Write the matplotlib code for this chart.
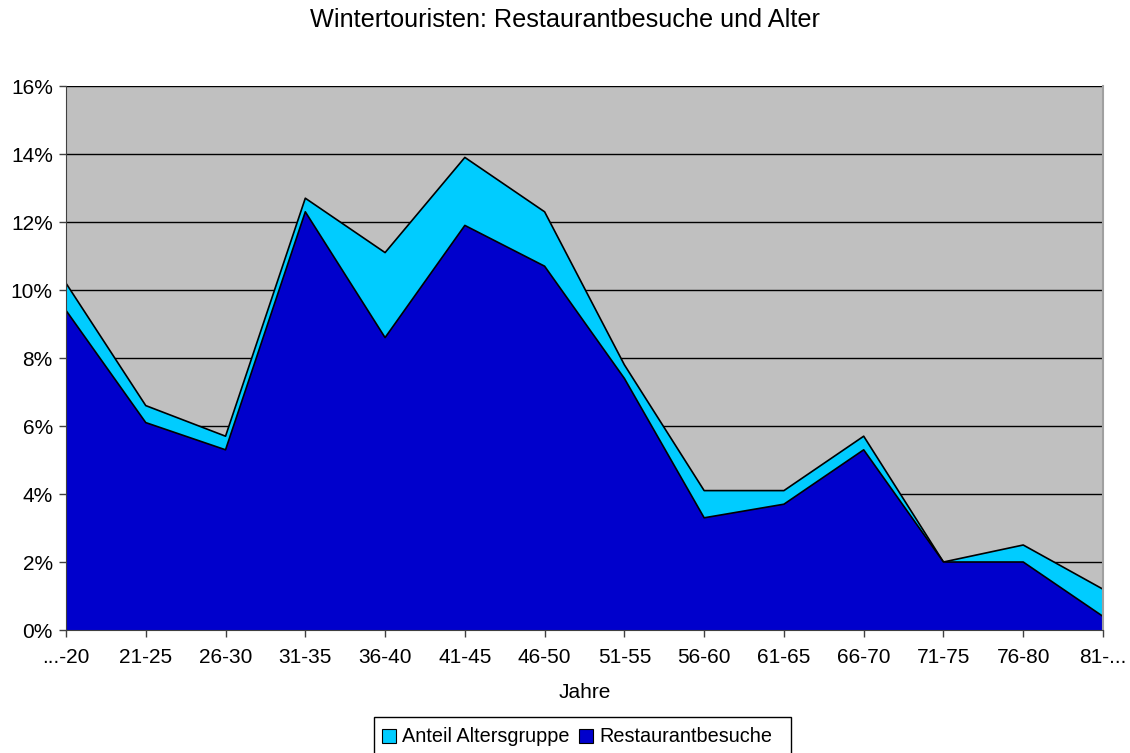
import matplotlib
matplotlib.use("Agg")
import matplotlib.pyplot as plt
from matplotlib.ticker import FuncFormatter
from matplotlib.patches import Patch, Rectangle

plt.rcParams["font.family"] = ["Liberation Sans", "DejaVu Sans"]

# Altersgruppen und Anteile in Prozent
age_groups = ["...-20", "21-25", "26-30", "31-35", "36-40", "41-45", "46-50",
              "51-55", "56-60", "61-65", "66-70", "71-75", "76-80", "81-..."]
anteil_altersgruppe = [10.2, 6.6, 5.7, 12.7, 11.1, 13.9, 12.3,
                       7.8, 4.1, 4.1, 5.7, 2.0, 2.5, 1.2]
restaurantbesuche = [9.4, 6.1, 5.3, 12.3, 8.6, 11.9, 10.7,
                     7.4, 3.3, 3.7, 5.3, 2.0, 2.0, 0.4]

CYAN = "#00CCFF"
DARK_BLUE = "#0000CC"
W, H = 1130, 753

fig = plt.figure(figsize=(11.3, 7.53), dpi=100)
ax = fig.add_axes([66 / W, 1 - 630 / H, (1103 - 66) / W, (630 - 86) / H])
ax.set_facecolor("#C0C0C0")

x = list(range(len(age_groups)))
ax.fill_between(x, 0, anteil_altersgruppe, facecolor=CYAN, edgecolor="none", zorder=2)
ax.plot(x, anteil_altersgruppe, color="black", linewidth=1.2, zorder=3)
ax.fill_between(x, 0, restaurantbesuche, facecolor=DARK_BLUE, edgecolor="none", zorder=4)
ax.plot(x, restaurantbesuche, color="black", linewidth=1.2, zorder=5)

ax.set_xlim(0, len(age_groups) - 1)
ax.set_ylim(0, 16)
ax.set_yticks(range(0, 17, 2))
ax.yaxis.set_major_formatter(FuncFormatter(lambda v, _: f"{int(v)}%"))
ax.set_xticks(x)
ax.set_xticklabels(age_groups)
ax.grid(axis="y", color="black", linewidth=1, zorder=1)
ax.set_axisbelow(True)

ax.tick_params(axis="both", direction="out", length=5, width=1,
               color="#404040", labelsize=15)
ax.tick_params(axis="x", pad=8)
ax.tick_params(axis="y", pad=4.5)
ax.spines["top"].set_visible(False)
ax.spines["right"].set_color("#A0A0A0")
ax.spines["right"].set_linewidth(1.5)
ax.spines["left"].set_color("#404040")
ax.spines["bottom"].set_color("#404040")
for side in ["left", "bottom", "right"]:
    ax.spines[side].set_zorder(6)

ax.set_xlabel("Jahre", fontsize=15, va="center")
ax.xaxis.set_label_coords(0.5, -(692 - 630) / 544)
fig.text(0.5, 1 - 20 / H, "Wintertouristen: Restaurantbesuche und Alter",
         ha="center", va="center", fontsize=18.2)

# Legend box like the spreadsheet one (runs off the bottom edge)
fig.patches.append(Rectangle((374 / W, -0.01), (791 - 374) / W, (H - 717) / H + 0.01,
                             transform=fig.transFigure, facecolor="white",
                             edgecolor="black", linewidth=1))
handles = [Patch(facecolor=CYAN, edgecolor="black", linewidth=0.8),
           Patch(facecolor=DARK_BLUE, edgecolor="black", linewidth=0.8)]
leg = fig.legend(handles, ["Anteil Altersgruppe", "Restaurantbesuche"],
                 loc="center left", bbox_to_anchor=(382 / W, 1 - 737 / H),
                 ncol=2, fontsize=14.3, frameon=False,
                 handlelength=0.7, handleheight=0.7, handletextpad=0.3,
                 columnspacing=0.5, borderpad=0, borderaxespad=0)

fig.savefig("out.png", dpi=100)
